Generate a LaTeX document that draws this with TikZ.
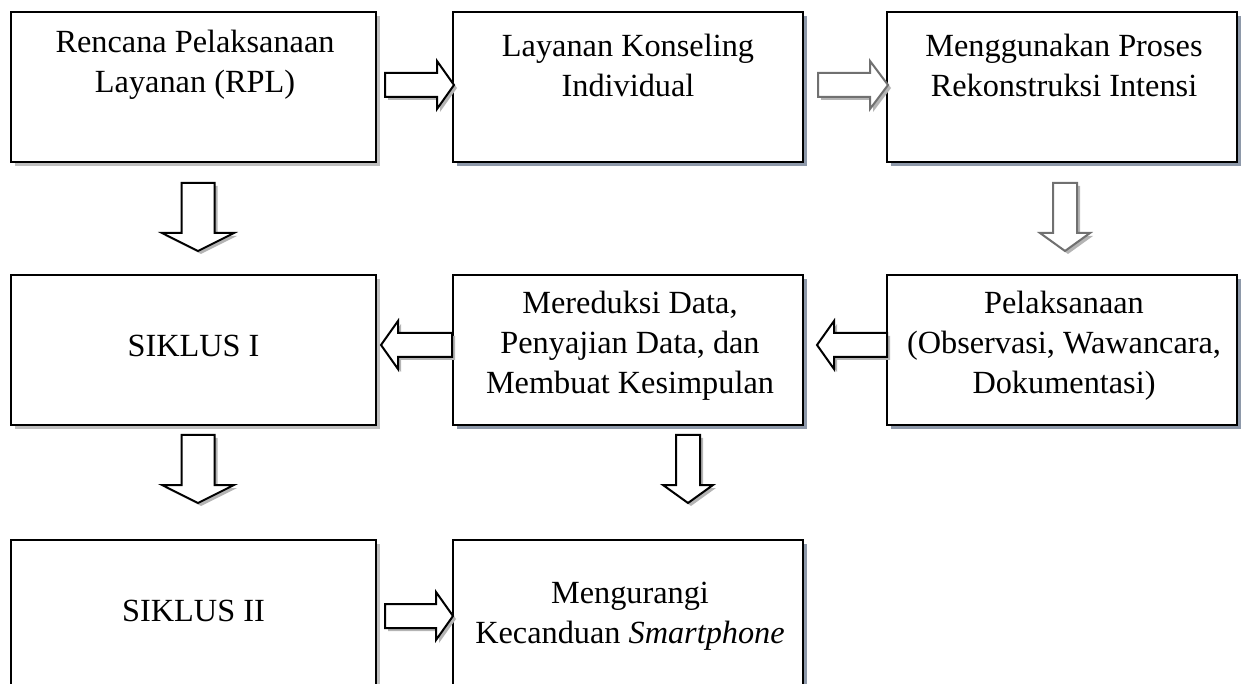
\documentclass[tikz,border=0pt]{standalone}
\usepackage{fontspec}
\setmainfont{Liberation Serif}
\definecolor{shgray}{HTML}{BFBFBF}
\definecolor{shblue}{HTML}{8E99AA}
\definecolor{arrsh}{HTML}{B4B4B4}
\definecolor{arrgray}{HTML}{707070}
\newcommand\flowbox[6]{%
  \fill[#6] (#2-#4/2+4,#3-#5/2+4) rectangle (#2+#4/2+4,#3+#5/2+4);
  \node[box, minimum width=#4pt, minimum height=#5pt] (#1) at (#2,#3) {};}
% horizontal block arrow: tail, tip, yc, signed head length, colour
\newcommand\harr[5]{%
  \fill[arrsh] (#1+3,#3-12+3) -- (#2-#4+3,#3-12+3) -- (#2-#4+3,#3-24+3) -- (#2+3,#3+3) -- (#2-#4+3,#3+24+3) -- (#2-#4+3,#3+12+3) -- (#1+3,#3+12+3) -- cycle;
  \filldraw[blockarr, draw=#5] (#1,#3-12) -- (#2-#4,#3-12) -- (#2-#4,#3-24) -- (#2,#3) -- (#2-#4,#3+24) -- (#2-#4,#3+12) -- (#1,#3+12) -- cycle;}
% vertical block arrow: xc, top, tip, shaft half, head half, head length, colour
\newcommand\varr[7]{%
  \fill[arrsh] (#1-#4+3,#2+3) -- (#1+#4+3,#2+3) -- (#1+#4+3,#3-#6+3) -- (#1+#5+3,#3-#6+3) -- (#1+3,#3+3) -- (#1-#5+3,#3-#6+3) -- (#1-#4+3,#3-#6+3) -- cycle;
  \filldraw[blockarr, draw=#7] (#1-#4,#2) -- (#1+#4,#2) -- (#1+#4,#3-#6) -- (#1+#5,#3-#6) -- (#1,#3) -- (#1-#5,#3-#6) -- (#1-#4,#3-#6) -- cycle;}
\begin{document}
\begin{tikzpicture}[x=1pt,y=-1pt,
  box/.style={draw=black, line width=2.5pt, fill=white, inner sep=0pt},
  blockarr/.style={fill=white, line width=2pt, line join=miter},
  txt/.style={font=\fontsize{32.3}{40}\selectfont, align=center, inner sep=0pt}]
\useasboundingbox (0,0) rectangle (1248,684);
\clip (0,0) rectangle (1248,684);
% boxes
\flowbox{b1}{193.5}{87}{365}{150}{shgray}
\flowbox{b2}{628}{87}{350}{150}{shblue}
\flowbox{b3}{1062}{87}{350}{150}{shblue}
\flowbox{b4}{193.5}{350}{365}{150}{shgray}
\flowbox{b5}{628}{350}{350}{150}{shblue}
\flowbox{b6}{1062}{350}{350}{150}{shblue}
\flowbox{b7}{193.5}{615}{365}{150}{shgray}
\flowbox{b8}{628}{615}{350}{150}{shblue}
% texts
\node[txt] (t1) at (195,65) {Rencana Pelaksanaan\\Layanan (RPL)};
\node[txt] (t2) at (628,65) {Layanan Konseling\\Individual};
\node[txt] (t3) at (1064,65) {Menggunakan Proses\\Rekonstruksi Intensi};
\node[txt] (t4) at (193.5,346) {SIKLUS I};
\node[txt] (t5) at (630,346) {Mereduksi Data,\\Penyajian Data, dan\\Membuat Kesimpulan};
\node[txt] (t6) at (1064,346) {Pelaksanaan\\(Observasi, Wawancara,\\Dokumentasi)};
\node[txt] (t7) at (193.5,611) {SIKLUS II};
\node[txt] (t8) at (630,616) {Mengurangi\\Kecanduan \textit{Smartphone}};
% block arrows
\harr{385}{454}{85}{17}{black}
\harr{818}{888}{85}{18}{arrgray}
\varr{198}{183}{251}{16.5}{36}{18}{black}
\varr{1065}{183}{251}{12}{25}{18}{arrgray}
\harr{887}{817}{345}{-17}{black}
\harr{452}{381}{345}{-17}{black}
\varr{198}{435}{503}{16.5}{36}{18}{black}
\varr{688}{435}{503}{12}{25}{18}{black}
\harr{385}{453}{616}{17}{black}
\end{tikzpicture}
\end{document}
